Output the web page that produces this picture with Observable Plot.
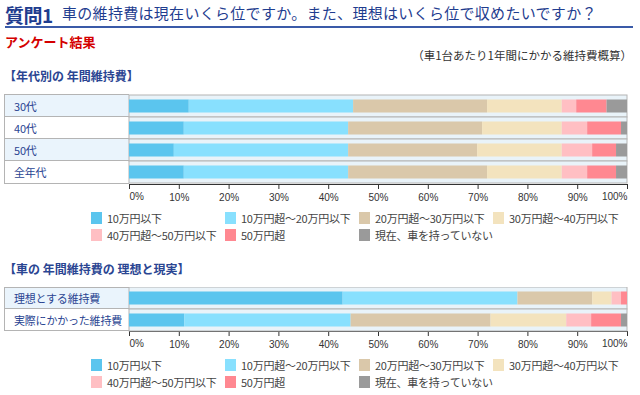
<!DOCTYPE html>
<html><head><meta charset="utf-8">
<script src="https://cdn.jsdelivr.net/npm/d3@7"></script>
<script src="https://cdn.jsdelivr.net/npm/@observablehq/plot@0.6"></script>
<style>
body{margin:0;width:640px;height:395px;position:relative;background:#fff;font-family:"Noto Sans CJK JP","Noto Sans",sans-serif;overflow:hidden}
.abs{position:absolute;white-space:nowrap}
.tbl{position:absolute;left:4px;width:125px;border:1px solid #b4b4b4;border-right:none;box-sizing:border-box}
.tbl div{box-sizing:border-box;border-bottom:1px solid #b4b4b4;font-size:11px;color:#2a4592;padding-left:9px;display:flex;align-items:center;white-space:nowrap;letter-spacing:-0.2px}
.tbl div:last-child{border-bottom:none}
.leg{position:absolute;left:91px;display:grid;grid-template-columns:repeat(4,134px);row-gap:3px;font-size:11px;color:#444}
.leg span{display:flex;align-items:center;height:14px;white-space:nowrap;letter-spacing:-0.25px}
.leg i{display:inline-block;width:11px;height:12px;margin-right:5px;flex:none}
</style></head>
<body>
<script>
const seriesNames = ["10万円以下","10万円超～20万円以下","20万円超～30万円以下","30万円超～40万円以下","40万円超～50万円以下","50万円超","現在、車を持っていない"];
const seriesColors = ["#5bc5ee","#88e0fe","#dac8aa","#f3e3be","#ffbfc3","#ff8891","#9a9a9a"];
const ageCats = ["30代","40代","50代","全年代"];
const age30 = [12.0, 33.0, 26.9, 15.0, 2.9, 6.1, 4.1];
const age40 = [11.0, 33.0, 26.9, 16.0, 5.1, 6.8, 1.2];
const age50 = [9.0, 35.0, 25.9, 17.0, 6.1, 4.8, 2.2];
const ageAll = [11.0, 33.0, 27.9, 15.0, 5.1, 5.8, 2.2];
const compareCats = ["理想とする維持費","実際にかかった維持費"];
const ideal = [42.9, 35.1, 15.0, 3.9, 1.9, 1.2, 0];
const actual = [11.1, 33.4, 28.1, 15.2, 5.0, 6.0, 1.2];
const tickValues = [0,10,20,30,40,50,60,70,80,90,100];

function addText(txt, css){
  const d=document.createElement("div"); d.className="abs"; d.textContent=txt;
  Object.assign(d.style, css); document.body.appendChild(d); return d;
}

// Title area
addText("質問1",{left:"5px",top:"1px",fontSize:"19px",fontWeight:"bold",color:"#1f3d8f",letterSpacing:"-0.5px"});
addText("車の維持費は現在いくら位ですか。また、理想はいくら位で収めたいですか？",{left:"62px",top:"2px",fontSize:"15px",color:"#1f3d8f",letterSpacing:"0.3px"});
const line=document.createElement("div");
Object.assign(line.style,{position:"absolute",left:"5px",top:"26px",width:"628px",height:"2px",background:"#3a5aa8"});
document.body.appendChild(line);
addText("アンケート結果",{left:"5px",top:"32px",fontSize:"13px",fontWeight:"bold",color:"#d40000"});
addText("（車1台あたり1年間にかかる維持費概算）",{right:"8px",top:"47px",fontSize:"11.5px",color:"#333"});

function makeTable(cats, top, height){
  const t=document.createElement("div"); t.className="tbl";
  t.style.top=top+"px"; t.style.height=height+"px";
  cats.forEach((c,i)=>{
    const r=document.createElement("div"); r.textContent=c;
    r.style.height=(height-2)/cats.length+"px";
    r.style.background = i%2===0 ? "#eaf4fc" : "#ffffff";
    t.appendChild(r);
  });
  document.body.appendChild(t);
}

function makeLegend(top){
  const g=document.createElement("div"); g.className="leg"; g.style.top=top+"px";
  seriesNames.forEach((s,i)=>{
    const sp=document.createElement("span");
    const sw=document.createElement("i"); sw.style.background=seriesColors[i];
    sp.appendChild(sw); sp.appendChild(document.createTextNode(s));
    g.appendChild(sp);
  });
  document.body.appendChild(g);
}

function makeChart(cats, rows, top, plotH){
  const data=[];
  cats.forEach((c,ci)=>rows[ci].forEach((v,si)=>data.push({cat:c, series:seriesNames[si], value:v})));
  const chart = Plot.plot({
    width:540, height:plotH+30, marginLeft:29, marginRight:13, marginTop:0, marginBottom:30,
    style:{fontFamily:'"Liberation Sans Narrow","Liberation Sans",sans-serif', fontSize:"10px", color:"#333", background:"transparent"},
    x:{domain:[0,100], ticks:tickValues, tickSize:5, line:true, label:null, tickFormat:d=>(d===0||d===100)?"":d+"%", tickPadding:4},
    y:{domain:cats, padding:0, axis:null},
    color:{domain:seriesNames, range:seriesColors},
    marks:[
      Plot.barX(cats,{x1:0,x2:100,y:d=>d,fill:"#e9f3f9", stroke:"#b4b4b4"}),
      Plot.barX(data, Plot.stackX({x:"value", y:"cat", fill:"series", insetTop:4.5, insetBottom:4.5})),
      Plot.text([0],{x:d=>d, frameAnchor:"bottom", dy:15, textAnchor:"start", text:d=>d+"%", fill:"#333"}),
      Plot.text([100],{x:d=>d, frameAnchor:"bottom", dy:15, textAnchor:"end", text:d=>d+"%", fill:"#333"})
    ]
  });
  chart.style.position="absolute"; chart.style.left="100px"; chart.style.top=top+"px";
  document.body.appendChild(chart);
}

// Chart 1
addText("【年代別の 年間維持費】",{left:"4px",top:"67px",fontSize:"12px",fontWeight:"bold",color:"#2a4592"});
makeTable(ageCats, 94, 90);
makeChart(ageCats,[age30,age40,age50,ageAll],94,90);
makeLegend(211);

// Chart 2
addText("【車の 年間維持費の 理想と現実】",{left:"4px",top:"260px",fontSize:"12px",fontWeight:"bold",color:"#2a4592"});
makeTable(compareCats, 287, 44);
makeChart(compareCats,[ideal,actual],287,44);
makeLegend(358);
</script>
</body></html>
